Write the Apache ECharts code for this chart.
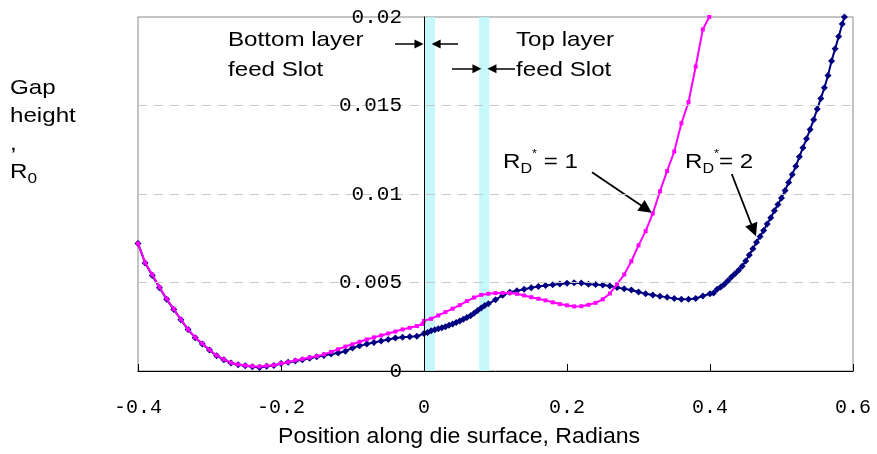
<!DOCTYPE html>
<html>
<head>
<meta charset="utf-8">
<script src="https://cdn.jsdelivr.net/npm/echarts@6/dist/echarts.min.js"></script>
<style>
  html, body { margin: 0; padding: 0; background: #ffffff; }
  #chart { width: 877px; height: 454px; }
</style>
</head>
<body>
<div id="chart"></div>
<script>
// Axis ticks and their printed labels
const xTickLabels = ['-0.4', '-0.2', '0', '0.2', '0.4', '0.6'];
const yTickLabels = ['0', '0.005', '0.01', '0.015', '0.02'];

// Gap height profile for R_D* = 1 (position in radians, gap height)
const rd1X = [-0.40, -0.39, -0.38, -0.37, -0.36, -0.35, -0.34, -0.33, -0.32, -0.31,
  -0.30, -0.29, -0.28, -0.27, -0.26, -0.25, -0.24, -0.23, -0.22, -0.21,
  -0.20, -0.19, -0.18, -0.17, -0.16, -0.15, -0.14, -0.13, -0.12, -0.11,
  -0.10, -0.09, -0.08, -0.07, -0.06, -0.05, -0.04, -0.03, -0.02, -0.01,
  -0.002, 0.00, 0.01, 0.02, 0.03, 0.04, 0.05, 0.06, 0.07, 0.08,
  0.09, 0.10, 0.11, 0.12, 0.13, 0.14, 0.15, 0.16, 0.17, 0.18,
  0.19, 0.20, 0.21, 0.22, 0.23, 0.24, 0.25, 0.26, 0.27, 0.28,
  0.29, 0.30, 0.31, 0.32, 0.33, 0.34, 0.35, 0.36, 0.37, 0.38,
  0.39, 0.399];
const rd1Y = [0.00721, 0.00612, 0.00545, 0.00474, 0.00408, 0.00350, 0.00292, 0.00236, 0.00190, 0.00155,
  0.00120, 0.00088, 0.00066, 0.00047, 0.00037, 0.00031, 0.00027, 0.00025, 0.00030, 0.00033,
  0.00043, 0.00050, 0.00060, 0.00068, 0.00076, 0.00084, 0.00094, 0.00108, 0.00123, 0.00138,
  0.00151, 0.00165, 0.00178, 0.00190, 0.00201, 0.00212, 0.00223, 0.00235, 0.00244, 0.00254,
  0.00266, 0.00283, 0.00295, 0.00314, 0.00333, 0.00352, 0.00372, 0.00395, 0.00415, 0.00430,
  0.00436, 0.00440, 0.00441, 0.00440, 0.00436, 0.00427, 0.00417, 0.00408, 0.00399, 0.00388,
  0.00378, 0.00371, 0.00365, 0.00366, 0.00374, 0.00385, 0.00405, 0.00438, 0.00490, 0.00545,
  0.00620, 0.00710, 0.00790, 0.00890, 0.01015, 0.01130, 0.01240, 0.01400, 0.01520, 0.01720,
  0.01930, 0.02000];

// Gap height profile for R_D* = 2
const rd2X = [-0.40, -0.39, -0.38, -0.37, -0.36, -0.35, -0.34, -0.33, -0.32, -0.31,
  -0.30, -0.29, -0.28, -0.27, -0.26, -0.25, -0.24, -0.23, -0.22, -0.21,
  -0.20, -0.19, -0.18, -0.17, -0.16, -0.15, -0.14, -0.13, -0.12, -0.11,
  -0.10, -0.09, -0.08, -0.07, -0.06, -0.05, -0.04, -0.03, -0.02, -0.01,
  0.000, 0.005, 0.010, 0.015, 0.020, 0.025, 0.030, 0.035, 0.040, 0.045,
  0.050, 0.055, 0.060, 0.065, 0.070, 0.075, 0.080, 0.085, 0.090,
  0.10, 0.11, 0.12, 0.13, 0.14, 0.15, 0.16, 0.17, 0.18, 0.19,
  0.20, 0.21, 0.22, 0.23, 0.24, 0.25, 0.26, 0.27, 0.28, 0.29,
  0.30, 0.31, 0.32, 0.33, 0.34, 0.35, 0.36, 0.37, 0.38, 0.39,
  0.400, 0.405, 0.410, 0.415, 0.420, 0.425, 0.430, 0.435, 0.440, 0.445,
  0.450, 0.455, 0.460, 0.465, 0.470, 0.475, 0.480, 0.485, 0.490, 0.495,
  0.500, 0.505, 0.510, 0.515, 0.520, 0.525, 0.530, 0.535, 0.540, 0.545,
  0.550, 0.555, 0.560, 0.565, 0.570, 0.575, 0.580, 0.585, 0.588];
const rd2Y = [0.00721, 0.00610, 0.00540, 0.00470, 0.00405, 0.00348, 0.00290, 0.00234, 0.00188, 0.00153,
  0.00118, 0.00086, 0.00064, 0.00045, 0.00035, 0.00029, 0.00024, 0.00020, 0.00027, 0.00031,
  0.00042, 0.00050, 0.00057, 0.00064, 0.00072, 0.00080, 0.00088, 0.00096, 0.00102, 0.00112,
  0.00130, 0.00142, 0.00152, 0.00161, 0.00170, 0.00178, 0.00186, 0.00191, 0.00193, 0.00196,
  0.00212, 0.00218, 0.00228, 0.00233, 0.00238, 0.00244, 0.00250, 0.00258, 0.00266, 0.00274,
  0.00282, 0.00292, 0.00302, 0.00312, 0.00326, 0.00342, 0.00356, 0.00370, 0.00380,
  0.00402, 0.00428, 0.00445, 0.00453, 0.00462, 0.00470, 0.00478, 0.00483, 0.00487, 0.00491,
  0.00496, 0.00498, 0.00497, 0.00490, 0.00488, 0.00486, 0.00480, 0.00472, 0.00464, 0.00458,
  0.00446, 0.00436, 0.00430, 0.00423, 0.00416, 0.00409, 0.00406, 0.00405, 0.00410, 0.00424,
  0.00436, 0.00440, 0.00462, 0.00475, 0.00490, 0.00510, 0.00531, 0.00550, 0.00569, 0.00592,
  0.00622, 0.00655, 0.00690, 0.00728, 0.00760, 0.00794, 0.00830, 0.00866, 0.00905, 0.00940,
  0.00978, 0.01020, 0.01065, 0.01110, 0.01157, 0.01210, 0.01262, 0.01312, 0.01365, 0.01420,
  0.01480, 0.01540, 0.01600, 0.01670, 0.01752, 0.01820, 0.01890, 0.01960, 0.02000];

// Feed slot extents (radians)
const slotStart = [0.0014, 0.077];
const slotEnd = [0.0154, 0.0914];

const zip = (xs, ys) => xs.map((x, i) => [x, ys[i]]);

const chart = echarts.init(document.getElementById('chart'), null, { renderer: 'canvas' });

const monoFont = '"Liberation Mono", "DejaVu Sans Mono", monospace';
const sansFont = '"Liberation Sans", Arial, sans-serif';
const gridColor = '#c8c8c8';
const wide = 1.15; // horizontal stretch of the annotation lettering

const gridLeft = 138, gridRight = 24;
const plotWidth = 877 - gridLeft - gridRight;
const xMin = -0.4, xMax = 0.6;
// the vertical axis stands at x = 0, inside the plot
const yAxisShift = plotWidth * (0 - xMin) / (xMax - xMin);

const arrow = (x1, y1, x2, y2) => [{ coord: [x1, y1] }, { coord: [x2, y2] }];

const rdRich = {
  sub: { fontFamily: sansFont, fontSize: 14, lineHeight: 14, verticalAlign: 'bottom' },
  sup: { fontFamily: sansFont, fontSize: 11, lineHeight: 12, verticalAlign: 'top' }
};

const option = {
  animation: false,
  backgroundColor: '#ffffff',
  grid: {
    left: gridLeft, right: gridRight, top: 17, bottom: 83,
    show: true, borderColor: '#888888', borderWidth: 1,
    containLabel: false
  },
  xAxis: {
    type: 'value',
    min: xMin, max: xMax, interval: 0.2,
    axisLine: { show: true, lineStyle: { color: '#000000', width: 1 } },
    axisTick: { show: true, inside: true, length: 7, lineStyle: { color: '#000000' } },
    splitLine: { show: false },
    axisLabel: {
      margin: 27,
      fontFamily: monoFont, fontSize: 20, color: '#000000',
      formatter: v => xTickLabels[Math.round((v - xMin) / 0.2)]
    }
  },
  yAxis: {
    type: 'value',
    min: 0, max: 0.02, interval: 0.005,
    position: 'left',
    offset: -yAxisShift,
    z: 10,
    axisLine: { show: true, onZero: false, lineStyle: { color: '#000000', width: 1 } },
    axisTick: { show: false },
    splitLine: {
      show: true,
      lineStyle: {
        type: [9, 7], width: 1,
        color: ['rgba(0,0,0,0)', gridColor, gridColor, gridColor, 'rgba(0,0,0,0)']
      }
    },
    axisLabel: {
      margin: 22,
      fontFamily: monoFont, fontSize: 21, color: '#000000',
      formatter: v => yTickLabels[Math.round(v / 0.005)]
    }
  },
  series: [
    {
      name: 'RD2',
      type: 'line',
      data: zip(rd2X, rd2Y),
      z: 2,
      symbol: 'diamond', symbolSize: 7,
      lineStyle: { color: '#000080', width: 2 },
      itemStyle: { color: '#000080' }
    },
    {
      name: 'RD1',
      type: 'line',
      data: zip(rd1X, rd1Y),
      z: 3,
      symbol: 'rect', symbolSize: 4,
      lineStyle: { color: '#ff00ff', width: 2 },
      itemStyle: { color: '#ff00ff' }
    },
    {
      name: 'slots',
      type: 'line',
      data: [],
      z: 4,
      markArea: {
        silent: true,
        itemStyle: { color: 'rgba(185,246,247,0.8)' },
        data: slotStart.map((s, i) => [{ xAxis: s }, { xAxis: slotEnd[i] }])
      }
    },
    {
      name: 'arrows',
      type: 'line',
      data: [],
      z: 6,
      markLine: {
        silent: true,
        symbol: ['none', 'triangle'],
        symbolSize: 9,
        label: { show: false },
        lineStyle: { color: '#000000', width: 1.5, type: 'solid' },
        data: [
          arrow(-0.0406, 0.01848, -0.0070, 0.01848),
          arrow(0.0476, 0.01848, 0.0170, 0.01848),
          arrow(0.0392, 0.01707, 0.0740, 0.01707),
          arrow(0.1273, 0.01707, 0.0950, 0.01707)
        ]
      }
    },
    {
      name: 'callouts',
      type: 'line',
      data: [],
      z: 6,
      markLine: {
        silent: true,
        symbol: ['none', 'triangle'],
        symbolSize: 13,
        label: { show: false },
        lineStyle: { color: '#000000', width: 1.8, type: 'solid' },
        data: [
          arrow(0.2350, 0.01123, 0.3110, 0.00915),
          arrow(0.4304, 0.01113, 0.4610, 0.00795)
        ]
      }
    }
  ],
  graphic: [
    {
      type: 'text', x: 10, y: 74, z: 20, scaleX: wide,
      style: {
        text: 'Gap\nheight\n,\nR{sub|0}',
        fontFamily: sansFont, fontSize: 21, lineHeight: 28, fill: '#000000',
        rich: { sub: { fontFamily: sansFont, fontSize: 15, lineHeight: 14, verticalAlign: 'bottom' } }
      }
    },
    {
      type: 'text', x: 228, y: 25, z: 20, scaleX: wide,
      style: {
        text: 'Bottom layer\nfeed Slot',
        fontFamily: sansFont, fontSize: 21, lineHeight: 30, fill: '#000000'
      }
    },
    {
      type: 'text', x: 516, y: 25, z: 20, scaleX: wide,
      style: {
        text: 'Top layer\nfeed Slot',
        fontFamily: sansFont, fontSize: 21, lineHeight: 30, fill: '#000000'
      }
    },
    {
      type: 'text', x: 503, y: 148, z: 20, scaleX: wide,
      style: {
        text: 'R{sub|D}{sup|*} = 1',
        fontFamily: sansFont, fontSize: 21, lineHeight: 28, fill: '#000000',
        rich: rdRich
      }
    },
    {
      type: 'text', x: 685, y: 148, z: 20, scaleX: wide,
      style: {
        text: 'R{sub|D}{sup|*}= 2',
        fontFamily: sansFont, fontSize: 21, lineHeight: 28, fill: '#000000',
        rich: rdRich
      }
    },
    {
      type: 'text', x: 278, y: 426, z: 20, scaleX: 1.05,
      style: {
        text: 'Position along die surface, Radians',
        fontFamily: sansFont, fontSize: 22, fill: '#000000'
      }
    }
  ]
};

chart.setOption(option);
</script>
</body>
</html>
